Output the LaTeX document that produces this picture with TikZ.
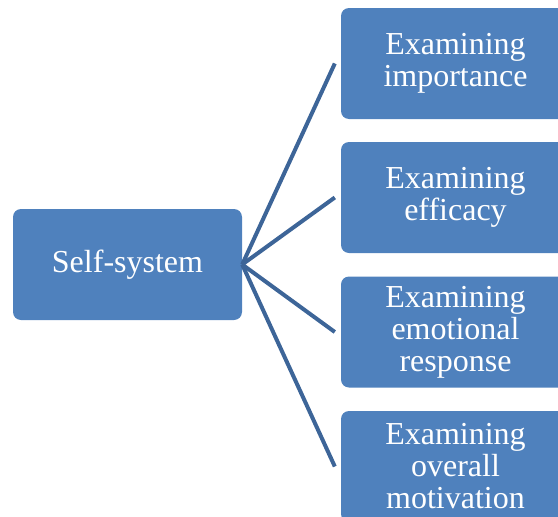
\documentclass[tikz,border=0pt]{standalone}
\usepackage{fontspec}
\setmainfont{Liberation Serif}
\usepackage{xcolor}
\definecolor{BoxBlue}{RGB}{79,129,189}
\definecolor{LinkBlue}{RGB}{61,101,152}
\tikzstyle{BoxNode}=[rectangle,rounded corners=8pt,fill=BoxBlue,text=white,
minimum width=229pt,minimum height=111pt,inner sep=0pt,align=center,
font=\fontsize{32}{32}\selectfont]
\tikzstyle{LinkEdge}=[LinkBlue,line width=4pt]
\begin{document}
\begin{tikzpicture}[x=1pt,y=-1pt]
        \useasboundingbox(0,0)rectangle(558,517);
        \clip(0,0)rectangle(558,517);
        \node[BoxNode](self)at(127.5,264.5){Self-system};
        \node[BoxNode](imp)at(455.5,63.5){Examining\\importance};
        \node[BoxNode](eff)at(455.5,197.5){Examining\\efficacy};
        \node[BoxNode](emo)at(455.5,332){Examining\\emotional\\response};
        \node[BoxNode](mot)at(455.5,466.5){Examining\\overall\\motivation};
        \draw[LinkEdge](self.east)--([xshift=-6pt]imp.west);
        \draw[LinkEdge](self.east)--([xshift=-6pt]eff.west);
        \draw[LinkEdge](self.east)--([xshift=-6pt]emo.west);
        \draw[LinkEdge](self.east)--([xshift=-6pt]mot.west);
    \end{tikzpicture}
\end{document}
